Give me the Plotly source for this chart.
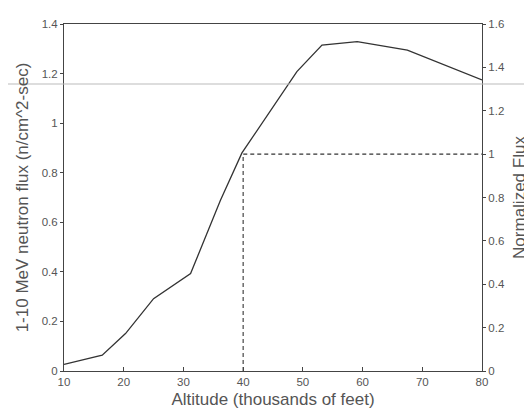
import plotly.graph_objects as go

altitude_kft = [10, 16.4, 20.3, 25.0, 31.2, 36.2, 39.8, 44.5, 49.0, 53.2, 59.1, 67.5, 80]
flux = [0.027, 0.064, 0.151, 0.292, 0.393, 0.689, 0.88, 1.046, 1.208, 1.315, 1.329, 1.295, 1.174]

ref_x = [40, 40, 80]
ref_norm = [0, 1, 1]

left_ticks = [0, 0.2, 0.4, 0.6, 0.8, 1, 1.2, 1.4]
right_ticks = [0, 0.2, 0.4, 0.6, 0.8, 1, 1.2, 1.4, 1.6]
x_ticks = [10, 20, 30, 40, 50, 60, 70, 80]

txt = "#555555"
axc = "#444444"
font = "Liberation Sans, Arial, sans-serif"

fig = go.Figure()
fig.add_trace(go.Scatter(x=altitude_kft, y=flux, mode="lines",
                         line=dict(color="#333333", width=1.3), showlegend=False))
fig.add_trace(go.Scatter(x=ref_x, y=ref_norm, mode="lines", yaxis="y2",
                         line=dict(color="#333333", width=1.1, dash="4px,3px"), showlegend=False))

W, H = 524, 407
L, R, T, B = 56, 50, 16, 44
ph = H - T - B

fig.update_layout(
    width=W, height=H,
    margin=dict(l=L, r=R, t=T, b=B),
    paper_bgcolor="white", plot_bgcolor="white",
    font=dict(family=font, color=txt, size=11.5),
    xaxis=dict(range=[10, 80], tickvals=x_ticks, ticks="inside", ticklen=4,
               tickcolor=axc, showline=True, linecolor=axc, linewidth=1,
               mirror=True, showgrid=False, zeroline=False, automargin=False,
               title=dict(text="Altitude (thousands of feet)", font=dict(size=17, color=txt), standoff=6)),
    yaxis=dict(range=[0, 1.4], tickvals=left_ticks, ticks="outside", ticklen=3,
               tickcolor=axc, showline=True, linecolor=axc, linewidth=1,
               showgrid=False, zeroline=False, automargin=False,
               title=dict(text="1-10 MeV neutron flux (n/cm^2-sec)", font=dict(size=17, color=txt), standoff=8)),
    yaxis2=dict(range=[0, 1.6], tickvals=right_ticks, overlaying="y", side="right",
                ticks="outside", ticklen=3, tickcolor=axc, showline=True,
                linecolor=axc, linewidth=1, showgrid=False, zeroline=False, automargin=False,
                title=dict(text="Normalized Flux", font=dict(size=17, color=txt), standoff=9)),
    shapes=[dict(type="line", xref="paper", yref="paper", x0=-0.2, x1=1.2,
                 y0=(H - B - 76) / ph, y1=(H - B - 76) / ph,
                 line=dict(color="#bbbbbb", width=1))],
)

fig.write_html("out.html")
